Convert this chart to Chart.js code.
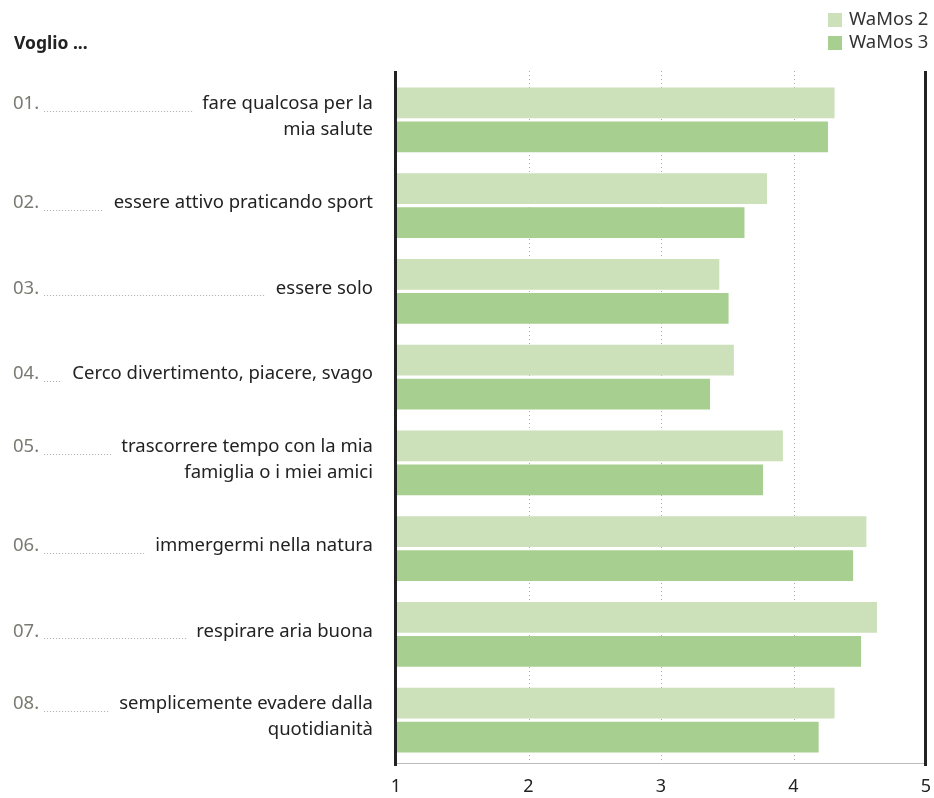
<!DOCTYPE html>
<html>
<head>
<meta charset="utf-8">
<script src="https://cdn.jsdelivr.net/npm/chart.js@4/dist/chart.umd.min.js"></script>
<style>
  html, body { margin: 0; padding: 0; background: #fff; }
  #wrap { width: 934px; height: 798px; }
</style>
</head>
<body>
<div id="wrap"><canvas id="chart" width="934" height="798"></canvas></div>
<script>
const title = 'Voglio ...';
const categories = [
    ['fare qualcosa per la', 'mia salute'],
    ['essere attivo praticando sport'],
    ['essere solo'],
    ['Cerco divertimento, piacere, svago'],
    ['trascorrere tempo con la mia', 'famiglia o i miei amici'],
    ['immergermi nella natura'],
    ['respirare aria buona'],
    ['semplicemente evadere dalla', 'quotidianità']
];
const seriesNames = ['WaMos 2', 'WaMos 3'];
const wamos2 = [4.31, 3.80, 3.44, 3.55, 3.92, 4.55, 4.63, 4.31];
const wamos3 = [4.26, 3.63, 3.51, 3.37, 3.77, 4.45, 4.51, 4.19];
const xTicks = [1, 2, 3, 4, 5];

const FONT = '"Noto Sans", "Open Sans", sans-serif';

// dotted grid lines behind bars, solid end lines on top
const gridLines = {
    id: 'gridLines',
    beforeDatasetsDraw(chart) {
        const ctx = chart.ctx, x = chart.scales.x, a = chart.chartArea;
        ctx.save();
        ctx.strokeStyle = '#aaa';
        ctx.lineWidth = 1;
        ctx.setLineDash([1, 3]);
        xTicks.slice(1, -1).forEach(v => {
            const px = Math.round(x.getPixelForValue(v)) + 0.5;
            ctx.beginPath();
            ctx.moveTo(px, a.top - 6);
            ctx.lineTo(px, a.bottom);
            ctx.stroke();
        });
        ctx.restore();
    },
    afterDatasetsDraw(chart) {
        const ctx = chart.ctx, x = chart.scales.x, a = chart.chartArea;
        ctx.save();
        ctx.strokeStyle = '#222';
        ctx.lineWidth = 3;
        [xTicks[0], xTicks[xTicks.length - 1]].forEach(v => {
            const px = x.getPixelForValue(v) - 0.5;
            ctx.beginPath();
            ctx.moveTo(px, a.top - 6);
            ctx.lineTo(px, a.bottom + 3);
            ctx.stroke();
        });
        ctx.restore();
    }
};

// left labels with number + dotted leader, title and legend
const decorations = {
    id: 'decorations',
    afterDraw(chart) {
        const ctx = chart.ctx, y = chart.scales.y;
        const right = 373, lineH = 26;
        ctx.save();
        ctx.textBaseline = 'middle';

        ctx.font = 'bold 17.5px ' + FONT;
        ctx.fillStyle = '#222';
        ctx.textAlign = 'left';
        ctx.fillText(title, 14, 44);

        categories.forEach((lines, i) => {
            const yc = y.getPixelForValue(i) - 3;
            const y0 = yc - (lines.length - 1) * lineH / 2;
            ctx.font = '18.5px ' + FONT;
            ctx.fillStyle = '#222';
            ctx.textAlign = 'right';
            lines.forEach((t, j) => ctx.fillText(t, right, y0 + j * lineH));
            const textStart = right - ctx.measureText(lines[0]).width;

            ctx.font = '18.5px ' + FONT;
            ctx.fillStyle = '#7a7a72';
            ctx.textAlign = 'left';
            const num = String(i + 1).padStart(2, '0') + '.';
            ctx.fillText(num, 13, y0);
            const numEnd = 13 + ctx.measureText(num).width + 5;

            ctx.strokeStyle = '#aaa';
            ctx.lineWidth = 1;
            ctx.setLineDash([1, 2]);
            ctx.beginPath();
            ctx.moveTo(numEnd, Math.round(y0 + 7) + 0.5);
            ctx.lineTo(textStart - 10, Math.round(y0 + 7) + 0.5);
            ctx.stroke();
            ctx.setLineDash([]);
        });

        chart.data.datasets.forEach((ds, i) => {
            const top = 13 + i * 23;
            ctx.fillStyle = ds.backgroundColor;
            ctx.fillRect(828, top, 14, 14);
            ctx.font = '18.5px ' + FONT;
            ctx.fillStyle = '#333';
            ctx.textAlign = 'left';
            ctx.fillText(ds.label, 849, top + 7);
        });
        ctx.restore();
    }
};

new Chart(document.getElementById('chart'), {
    type: 'bar',
    data: {
        labels: categories,
        datasets: [
            { label: seriesNames[0], data: wamos2, backgroundColor: '#cce0ba' },
            { label: seriesNames[1], data: wamos3, backgroundColor: '#a7cf8f' }
        ]
    },
    options: {
        indexAxis: 'y',
        responsive: false,
        animation: false,
        devicePixelRatio: 1,
        layout: { padding: { top: 77, right: 8, left: 0, bottom: 0 } },
        datasets: {
            bar: { categoryPercentage: 0.79, barPercentage: 0.91 }
        },
        plugins: {
            legend: { display: false },
            tooltip: { enabled: false }
        },
        scales: {
            x: {
                min: 1,
                max: 5,
                afterBuildTicks: s => { s.ticks = xTicks.map(v => ({ value: v })); },
                afterFit: s => { s.height = 35; s.paddingLeft = 0; s.paddingRight = 0; },
                grid: { display: false },
                border: { display: true, color: '#bbb', width: 1, dash: [1, 2] },
                ticks: {
                    color: '#222',
                    padding: 5,
                    font: { family: FONT, size: 18 },
                    maxRotation: 0
                }
            },
            y: {
                afterFit: s => { s.width = 396; },
                grid: { display: false },
                border: { display: false },
                ticks: { display: false }
            }
        }
    },
    plugins: [gridLines, decorations]
});
</script>
</body>
</html>
